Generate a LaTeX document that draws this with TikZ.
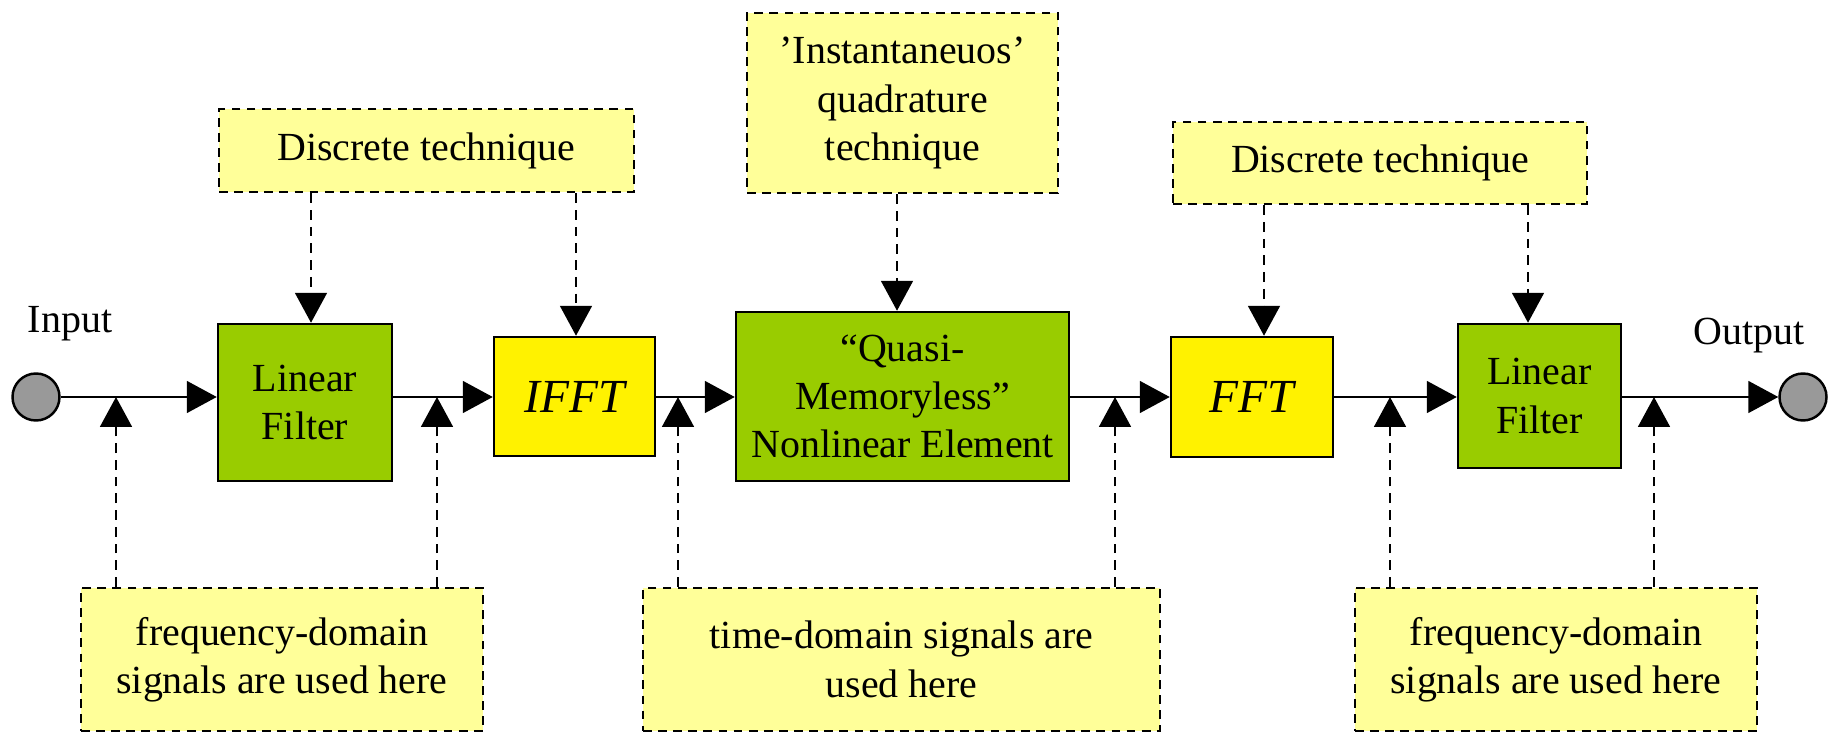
\documentclass[tikz,border=0pt]{standalone}
\usepackage{fontspec}
\setmainfont{Liberation Serif}
\usetikzlibrary{arrows.meta}

\definecolor{leafgreen}{RGB}{153,204,0}
\definecolor{paleyellow}{RGB}{255,255,153}
\definecolor{portgray}{RGB}{153,153,153}

\tikzset{
	block/.style={draw, line width=1.4pt, inner sep=0pt, align=center},
	filterblock/.style={block, fill=leafgreen},
	fftblock/.style={block, fill=yellow, font=\fontsize{27}{32}\selectfont\itshape},
	note/.style={draw, dash pattern=on 5pt off 3.6pt, line width=1.6pt, fill=paleyellow, inner sep=0pt, align=center},
	port/.style={circle, draw, line width=1.4pt, fill=portgray, minimum size=0.94cm, inner sep=0pt},
	sig/.style={-{Triangle[length=17pt,width=18pt]}, line width=1.4pt},
	ctl/.style={sig, line width=1.5pt, dash pattern=on 5.5pt off 4pt}
}

\begin{document}
\begin{tikzpicture}[font=\fontsize{22.7}{27.5}\selectfont]
	\useasboundingbox (0,0) rectangle (36.72,14.64);

	\node[port] (in) at (0.72,6.70) {};
	\node[anchor=base] (inlabel) at (1.40,7.98) {Input};
	\node[port] (out) at (36.06,6.70) {};
	\node[anchor=base] (outlabel) at (34.98,7.74) {Output};

	\node[filterblock, minimum width=3.48cm, minimum height=3.14cm] (lf1) at (6.10,6.59) {Linear\\Filter};
	\node[fftblock, minimum width=3.22cm, minimum height=2.38cm] (ifft) at (11.49,6.71) {IFFT};
	\node[filterblock, minimum width=6.66cm, minimum height=3.38cm] (nl) at (18.05,6.71) {“Quasi-\\Memoryless”\\Nonlinear Element};
	\node[fftblock, minimum width=3.24cm, minimum height=2.40cm] (fft) at (25.04,6.70) {FFT};
	\node[filterblock, minimum width=3.26cm, minimum height=2.88cm] (lf2) at (30.79,6.72) {Linear\\Filter};

	\node[note, minimum width=8.30cm, minimum height=1.66cm] (dt1) at (8.53,11.63) {Discrete technique};
	\node[note, minimum width=6.22cm, minimum height=3.60cm] (inst) at (18.05,12.58) {’Instantaneuos’\\quadrature\\technique};
	\node[note, minimum width=8.28cm, minimum height=1.64cm] (dt2) at (27.60,11.38) {Discrete technique};

	\node[note, minimum width=8.04cm, minimum height=2.86cm] (fd1) at (5.64,1.45) {frequency-domain\\signals are used here};
	\node[note, minimum width=10.34cm, minimum height=2.86cm] (td) at (18.03,1.45) {time-domain signals are\\used here};
	\node[note, minimum width=8.04cm, minimum height=2.86cm] (fd2) at (31.12,1.45) {frequency-domain\\signals are used here};

	\draw[sig] (in) -- (lf1.west |- in);
	\draw[sig] (lf1.east |- in) -- (ifft.west |- in);
	\draw[sig] (ifft.east |- in) -- (nl.west |- in);
	\draw[sig] (nl.east |- in) -- (fft.west |- in);
	\draw[sig] (fft.east |- in) -- (lf2.west |- in);
	\draw[sig] (lf2.east |- out) -- (out);

	\coordinate (t1) at (6.22,10);
	\coordinate (t2) at (11.52,10);
	\coordinate (t3) at (17.94,10);
	\coordinate (t4) at (25.28,10);
	\coordinate (t5) at (30.56,10);
	\foreach \c/\a/\b in {t1/dt1/lf1, t2/dt1/ifft, t3/inst/nl, t4/dt2/fft, t5/dt2/lf2}
		\draw[ctl] (\a.south -| \c) -- (\b.north -| \c);

	\coordinate (b1) at (2.32,6.70);
	\coordinate (b2) at (8.74,6.70);
	\coordinate (b3) at (13.56,6.70);
	\coordinate (b4) at (22.30,6.70);
	\coordinate (b5) at (27.80,6.70);
	\coordinate (b6) at (33.08,6.70);
	\foreach \c/\b in {b1/fd1, b2/fd1, b3/td, b4/td, b5/fd2, b6/fd2}
		\draw[ctl] (\b.north -| \c) -- (\c);
\end{tikzpicture}
\end{document}
